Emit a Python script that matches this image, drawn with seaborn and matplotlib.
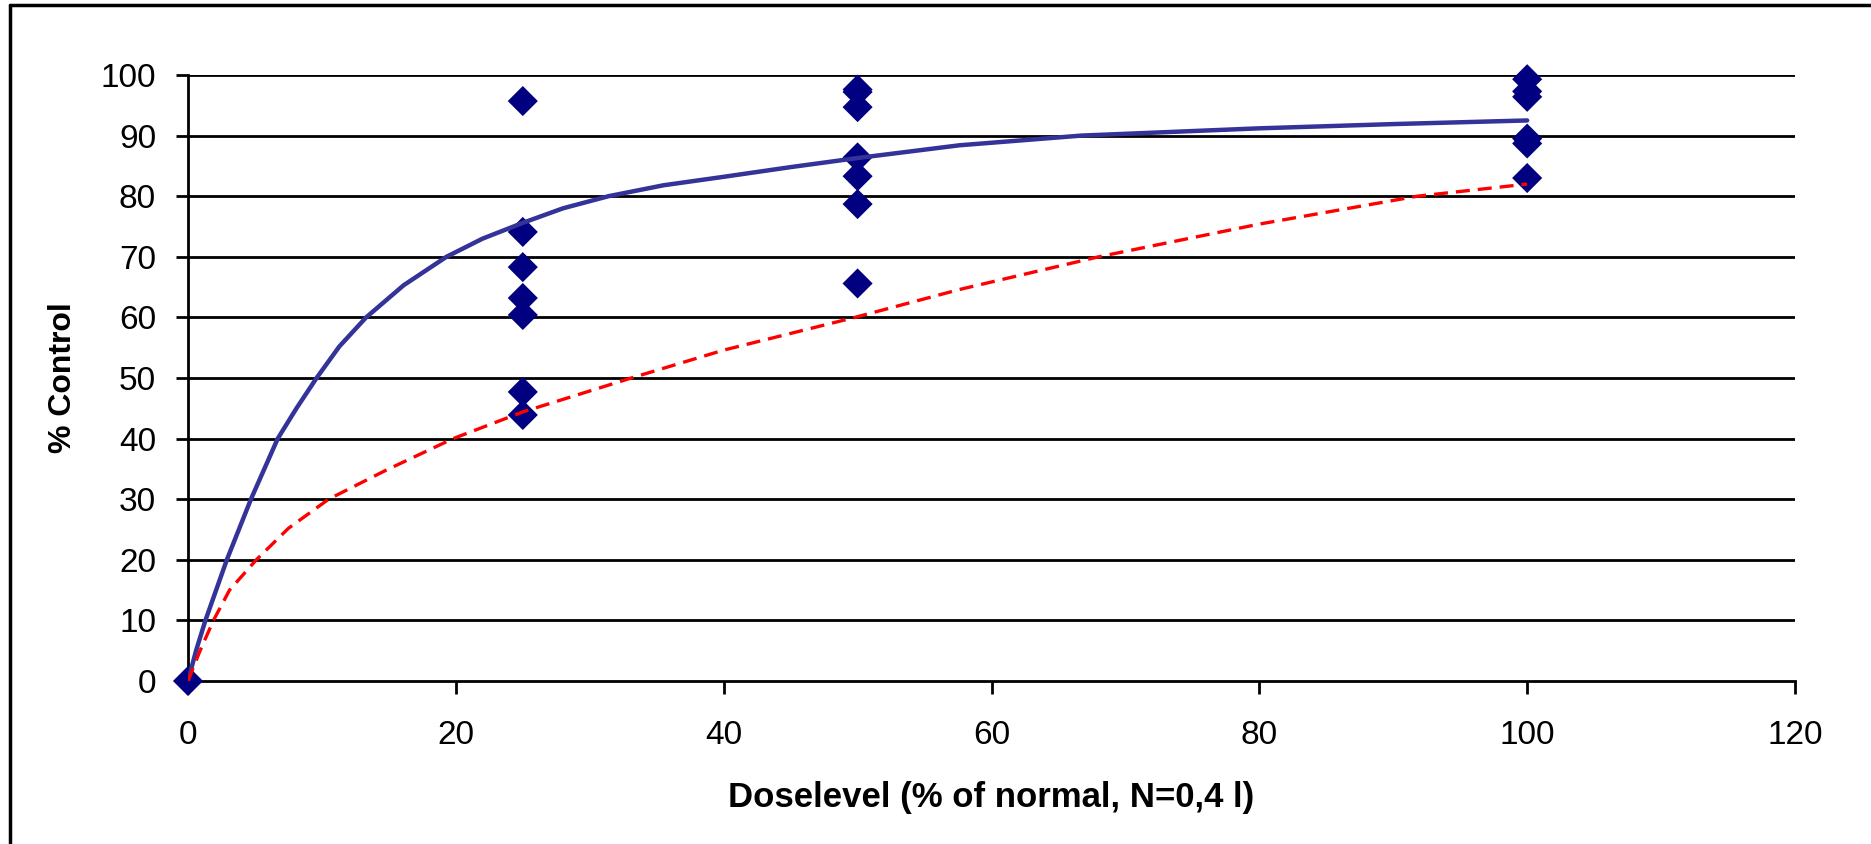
import matplotlib
matplotlib.use("Agg")
import matplotlib.pyplot as plt
import seaborn as sns
import pandas as pd
from matplotlib.lines import Line2D

# ---- data ----
dose = [0,
        25, 25, 25, 25, 25, 25, 25,
        50, 50, 50, 50, 50, 50, 50,
        100, 100, 100, 100, 100, 100]
pct_control = [0,
               95.7, 74.1, 68.3, 63.2, 60.4, 47.7, 43.9,
               97.6, 97.2, 94.7, 86.4, 83.3, 78.7, 65.6,
               99.3, 97.3, 96.4, 89.5, 88.7, 83.0]

blue_x = [0, 0.6, 1.3, 2.1, 2.9, 3.8, 4.7, 5.7, 6.7, 8.1, 9.6, 11.3, 13.3, 16.1,
          19.3, 22.0, 25, 28.0, 31.4, 35.5, 40, 45, 50, 57.6, 66.7, 80, 90, 100]
blue_y = [0, 5, 10, 15, 20, 25, 30, 35, 40, 45, 50, 55.2, 60, 65.3,
          70, 73.0, 75.6, 78.0, 80, 81.8, 83.2, 84.8, 86.3, 88.4, 90, 91.2, 91.9, 92.5]

red_x = [0, 0.9, 1.9, 3.1, 5.1, 7.5, 10.5, 14.8, 19.8, 25, 33.1, 40, 49.8, 57.6,
         68.0, 80, 91.8, 100]
red_y = [0, 5, 10, 15.0, 20, 25.2, 30, 34.8, 40, 44.4, 50, 54.6, 60, 64.6,
         70, 75.4, 80, 82.0]

x_ticks = [0, 20, 40, 60, 80, 100, 120]
y_ticks = [0, 10, 20, 30, 40, 50, 60, 70, 80, 90, 100]
x_label = "Doselevel (% of normal, N=0,4 l)"
y_label = "% Control"

sns.set_theme(style="white")
plt.rcParams['font.family'] = ['Liberation Sans', 'DejaVu Sans']
plt.rcParams['text.color'] = 'black'
plt.rcParams['axes.labelcolor'] = 'black'

fig = plt.figure(figsize=(18.71, 8.44), dpi=100)
ax = fig.add_axes([188/1871, 1 - 681/844, (1795-188)/1871, (681-75)/844])

pts = pd.DataFrame({"dose": dose, "pct": pct_control})
blue = pd.DataFrame({"x": blue_x, "y": blue_y})
red = pd.DataFrame({"x": red_x, "y": red_y})

sns.scatterplot(data=pts, x="dose", y="pct", marker="D", s=235, color="#000080",
                edgecolor="none", linewidth=0, ax=ax, zorder=3, clip_on=False)
sns.lineplot(data=blue, x="x", y="y", sort=False, estimator=None, color="#333399",
             linewidth=3.2, ax=ax, zorder=4)
sns.lineplot(data=red, x="x", y="y", sort=False, estimator=None, color="#ff0000",
             linewidth=2.4, ax=ax, zorder=4)
red_line = ax.lines[-1]
red_line.set_linestyle((0, (4.2, 2.4)))
for l in ax.lines:
    l.set_solid_joinstyle("round")
    l.set_dash_joinstyle("round")

ax.set_xlim(0, 120)
ax.set_ylim(0, 100)
ax.set_xticks(x_ticks)
ax.set_yticks(y_ticks)
ax.set_xticklabels([str(t) for t in x_ticks])
ax.set_yticklabels([str(t) for t in y_ticks])

for y in y_ticks[1:]:
    ax.axhline(y, color="black", linewidth=2.0, zorder=1)

for side in ["top", "right"]:
    ax.spines[side].set_visible(False)
for side in ["left", "bottom"]:
    ax.spines[side].set_color("black")
    ax.spines[side].set_linewidth(2.0)

ax.tick_params(axis="both", which="major", direction="out", length=9, width=2,
               color="black", labelsize=24, labelcolor="black", bottom=True, left=True)
ax.tick_params(axis="x", pad=19)
ax.tick_params(axis="y", pad=14)

ax.set_xlabel(x_label, fontsize=25, fontweight="bold", labelpad=22, color="black")
ax.set_ylabel(y_label, fontsize=23, fontweight="bold", labelpad=16, color="black")

# chart area border (left and top visible)
fig.add_artist(Line2D([10/1871, 10/1871], [0, 1 - 5/844], transform=fig.transFigure,
                      color="black", linewidth=2.5))
fig.add_artist(Line2D([10/1871, 1], [1 - 5/844, 1 - 5/844], transform=fig.transFigure,
                      color="black", linewidth=2.5))

fig.savefig("out.png", dpi=100)
